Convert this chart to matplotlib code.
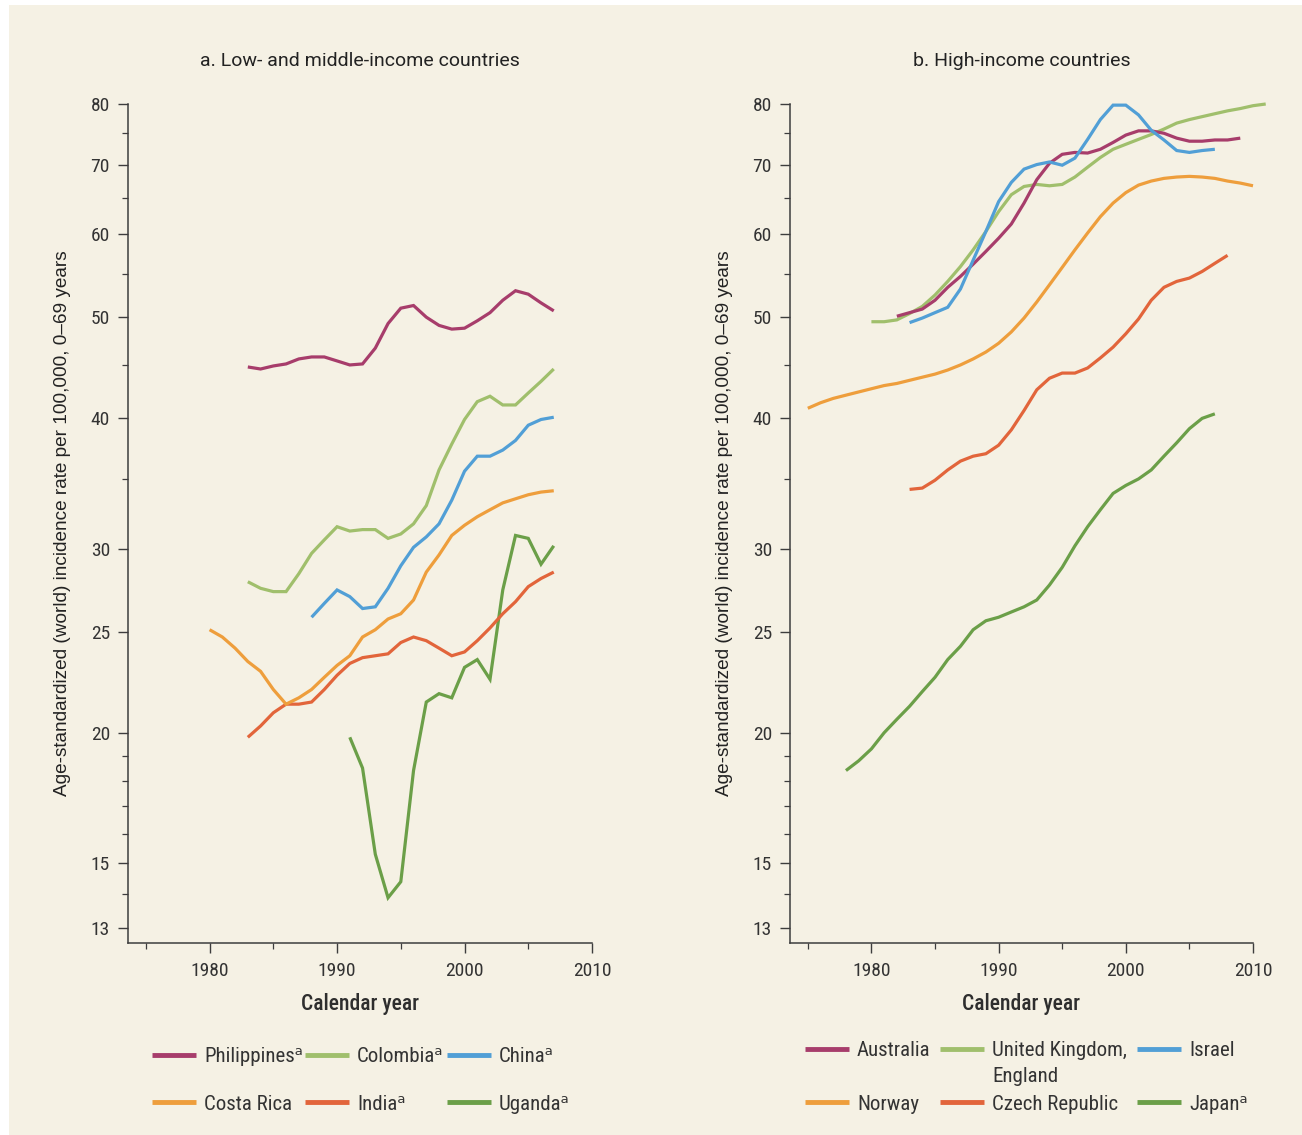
import numpy as np
import matplotlib
matplotlib.use("Agg")
import matplotlib.pyplot as plt
from matplotlib import font_manager
from matplotlib.ticker import FixedLocator, NullFormatter
from matplotlib.patches import Rectangle

# ---- data: low- and middle-income countries ----
phil_years = list(range(1983, 2008))
phil_rate = [44.8, 44.6, 44.9, 45.1, 45.6, 45.8, 45.8, 45.4, 45.0, 45.1, 46.7, 49.3, 51.0,
             51.3, 50.0, 49.1, 48.7, 48.8, 49.6, 50.5, 51.9, 53.0, 52.6, 51.6, 50.7]

colom_years = list(range(1983, 2008))
colom_rate = [27.9, 27.5, 27.3, 27.3, 28.4, 29.7, 30.6, 31.5, 31.2, 31.3, 31.3, 30.7, 31.0,
              31.7, 33.0, 35.7, 37.8, 39.9, 41.5, 42.0, 41.2, 41.2, 42.3, 43.4, 44.6]

china_years = list(range(1988, 2008))
china_rate = [25.8, 26.6, 27.4, 27.0, 26.3, 26.4, 27.5, 28.9, 30.1, 30.8, 31.7, 33.4, 35.6,
              36.8, 36.8, 37.3, 38.1, 39.4, 39.9, 40.1]

costa_years = list(range(1980, 2008))
costa_rate = [25.1, 24.7, 24.1, 23.4, 22.9, 22.0, 21.3, 21.6, 22.0, 22.6, 23.2, 23.7, 24.7,
              25.1, 25.7, 26.0, 26.8, 28.5, 29.6, 30.9, 31.6, 32.2, 32.7, 33.2, 33.5, 33.8,
              34.0, 34.1]

india_years = list(range(1983, 2008))
india_rate = [19.8, 20.3, 20.9, 21.3, 21.3, 21.4, 22.0, 22.7, 23.3, 23.6, 23.7, 23.8, 24.4,
              24.7, 24.5, 24.1, 23.7, 23.9, 24.5, 25.2, 26.0, 26.7, 27.6, 28.1, 28.5]

uganda_years = list(range(1991, 2008))
uganda_rate = [19.8, 18.5, 15.3, 13.9, 14.4, 18.4, 21.4, 21.8, 21.6, 23.1, 23.5, 22.5, 27.4,
               30.9, 30.7, 29.0, 30.2]

# ---- data: high-income countries ----
austr_years = list(range(1982, 2010))
austr_rate = [50.1, 50.5, 50.9, 51.9, 53.4, 54.7, 56.2, 57.8, 59.5, 61.4, 64.3, 67.7, 70.2,
              71.6, 71.9, 71.8, 72.4, 73.5, 74.7, 75.4, 75.4, 75.0, 74.2, 73.7, 73.7, 73.9,
              73.9, 74.2]

uk_years = list(range(1980, 2012))
uk_rate = [49.5, 49.5, 49.7, 50.4, 51.2, 52.5, 54.1, 55.9, 58.0, 60.4, 63.1, 65.5, 66.7,
           67.0, 66.8, 67.0, 68.1, 69.6, 71.1, 72.4, 73.2, 74.0, 74.8, 75.7, 76.7, 77.3,
           77.8, 78.3, 78.8, 79.2, 79.7, 80.0]

israel_years = list(range(1983, 2008))
israel_rate = [49.4, 49.9, 50.5, 51.1, 53.2, 56.7, 60.4, 64.5, 67.3, 69.3, 70.0, 70.4, 69.9,
               71.0, 74.0, 77.3, 79.8, 79.8, 78.1, 75.5, 73.9, 72.2, 71.9, 72.2, 72.4]

norway_years = list(range(1975, 2011))
norway_rate = [40.9, 41.4, 41.8, 42.1, 42.4, 42.7, 43.0, 43.2, 43.5, 43.8, 44.1, 44.5, 45.0,
               45.6, 46.3, 47.2, 48.4, 49.9, 51.7, 53.7, 55.8, 58.0, 60.2, 62.4, 64.3, 65.8,
               66.9, 67.5, 67.9, 68.1, 68.2, 68.1, 67.9, 67.5, 67.2, 66.8]

czech_years = list(range(1983, 2009))
czech_rate = [34.2, 34.3, 34.9, 35.7, 36.4, 36.8, 37.0, 37.7, 39.0, 40.7, 42.6, 43.7, 44.2,
              44.2, 44.7, 45.7, 46.8, 48.2, 49.8, 51.9, 53.4, 54.1, 54.5, 55.3, 56.3, 57.3]

japan_years = list(range(1978, 2008))
japan_rate = [18.4, 18.8, 19.3, 20.0, 20.6, 21.2, 21.9, 22.6, 23.5, 24.2, 25.1, 25.6, 25.8,
              26.1, 26.4, 26.8, 27.7, 28.8, 30.2, 31.5, 32.7, 33.9, 34.5, 35.0, 35.7, 36.8,
              37.9, 39.1, 40.0, 40.4]

major_y = [13, 15, 20, 25, 30, 40, 50, 60, 70, 80]
minor_y = [14, 16, 17, 18, 19, 35, 45, 55, 65, 75]
major_x = [1980, 1990, 2000, 2010]
minor_x = [1975, 1985, 1995, 2005]

MAROON = '#a73d6b'
LGREEN = '#a0bf6c'
BLUE = '#519fd6'
ORANGE = '#ee9e3c'
RED = '#e2653b'
GREEN = '#6b9f48'
BG = '#f5f1e4'
AXC = '#3d3d3d'

SUP = '\u1d43'

W, H = 1302, 1135


def pick(cands):
    have = set(f.name for f in font_manager.fontManager.ttflist)
    for c in cands:
        if c in have:
            return c
    return 'DejaVu Sans'


cond = pick(['Roboto Condensed', 'Liberation Sans Narrow', 'Archivo Narrow', 'PT Sans Narrow', 'Roboto'])
narrow = [cond, 'DejaVu Sans']
plain = [pick(['Liberation Sans', 'Roboto']), 'DejaVu Sans']
title_font = [pick(['Roboto', 'Liberation Sans']), 'DejaVu Sans']

fig = plt.figure(figsize=(W / 100, H / 100), dpi=100)
fig.patch.set_facecolor('white')
fig.patches.append(Rectangle((9 / W, 0), 1 - 9 / W, 1 - 5 / H,
                             transform=fig.transFigure, facecolor=BG, edgecolor='none', zorder=-10))

ax1 = fig.add_axes([128 / W, 1 - 943 / H, 464 / W, 839 / H])
ax2 = fig.add_axes([790 / W, 1 - 943 / H, 463 / W, 839 / H])

# (years, values, colour, legend label, legend column x, legend row y) -- last two in pixels
left_series = [
    (phil_years, phil_rate, MAROON, 'Philippines' + SUP, 152, 1057),
    (colom_years, colom_rate, LGREEN, 'Colombia' + SUP, 305, 1057),
    (china_years, china_rate, BLUE, 'China' + SUP, 447, 1057),
    (costa_years, costa_rate, ORANGE, 'Costa Rica', 152, 1104),
    (india_years, india_rate, RED, 'India' + SUP, 305, 1104),
    (uganda_years, uganda_rate, GREEN, 'Uganda' + SUP, 447, 1104),
]
right_series = [
    (austr_years, austr_rate, MAROON, 'Australia', 805, 1051),
    (uk_years, uk_rate, LGREEN, 'United Kingdom,', 940, 1051),
    (israel_years, israel_rate, BLUE, 'Israel', 1137, 1051),
    (norway_years, norway_rate, ORANGE, 'Norway', 805, 1104),
    (czech_years, czech_rate, RED, 'Czech Republic', 940, 1104),
    (japan_years, japan_rate, GREEN, 'Japan' + SUP, 1137, 1104),
]

draw_order_left = [5, 4, 3, 2, 1, 0]
draw_order_right = [5, 4, 3, 1, 0, 2]

panels = [(ax1, left_series, draw_order_left, 'a. Low- and middle-income countries'),
          (ax2, right_series, draw_order_right, 'b. High-income countries')]

for ax, series, order, title in panels:
    ax.set_facecolor('none')
    for i in order:
        yrs, vals, col, lab, lx, ly = series[i]
        ln, = ax.plot(yrs, vals, color=col, lw=2.3, clip_on=False,
                      solid_capstyle='butt', solid_joinstyle='miter')
        leg = fig.legend(handles=[ln], labels=[lab], loc='center left', frameon=False,
                         bbox_to_anchor=(lx / W, 1 - ly / H), bbox_transform=fig.transFigure,
                         borderpad=0, borderaxespad=0, handlelength=2.1, handletextpad=0.4,
                         prop={'family': narrow, 'size': 15}, labelcolor='#333333')
        for h in leg.legend_handles:
            h.set_linewidth(3.5)
    ax.set_yscale('log')
    ax.set_ylim(12.58, 80)
    ax.set_xlim(1973.6, 2010)
    ax.yaxis.set_major_locator(FixedLocator(major_y))
    ax.yaxis.set_minor_locator(FixedLocator(minor_y))
    ax.set_yticklabels([str(v) for v in major_y])
    ax.yaxis.set_minor_formatter(NullFormatter())
    ax.xaxis.set_major_locator(FixedLocator(major_x))
    ax.xaxis.set_minor_locator(FixedLocator(minor_x))
    ax.set_xticklabels([str(v) for v in major_x])
    for s in ['top', 'right']:
        ax.spines[s].set_visible(False)
    for s in ['left', 'bottom']:
        ax.spines[s].set_color(AXC)
        ax.spines[s].set_linewidth(1.1)
    ax.tick_params(which='major', length=7, width=1.0, color=AXC, labelcolor='#333333', pad=6)
    ax.tick_params(which='minor', length=4, width=0.9, color=AXC)
    ax.tick_params(axis='x', which='major', pad=7)
    for lbl in ax.get_xticklabels() + ax.get_yticklabels():
        lbl.set_family(narrow)
        lbl.set_fontsize(14)
    ax.set_title(title, family=title_font, fontsize=14, color='#222222', pad=27)
    ax.set_xlabel('Calendar year', family=narrow, fontsize=15.5, fontweight='medium',
                  color='#2e2e2e', labelpad=9)
    ax.set_ylabel('Age-standardized (world) incidence rate per 100,000, 0\u201369 years',
                  family=plain, fontsize=13.7, color='#222222', labelpad=14)

# second line of the "United Kingdom, England" legend label
fig.text(992 / W, 1 - 1076 / H, 'England', family=narrow, fontsize=15, color='#333333',
         ha='left', va='center')

fig.savefig('out.png', dpi=100, facecolor=fig.get_facecolor())
